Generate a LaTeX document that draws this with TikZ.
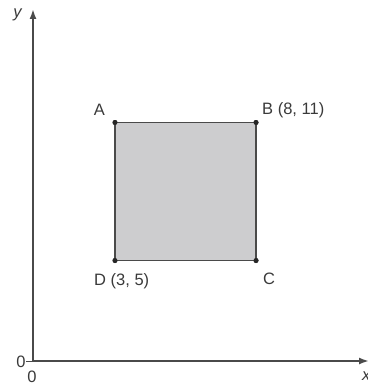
\documentclass[tikz,border=0pt]{standalone}
\usepackage{fontspec}
\setmainfont{Liberation Sans}
\usetikzlibrary{arrows.meta}
\definecolor{axisgray}{HTML}{4A4A4A}
\definecolor{txtgray}{HTML}{3A3A3A}
\definecolor{sqfill}{HTML}{CDCDCF}
\begin{document}
\begin{tikzpicture}[x=1pt,y=-1pt,
  axis/.style={draw=axisgray,line width=1.8pt,-{Latex[length=10pt,width=7pt]}},
  lbl/.style={text=txtgray,font=\fontsize{16.5}{18}\selectfont,inner sep=0pt},
  dot/.style={circle,fill=black!85,inner sep=0pt,minimum size=5pt}]
\useasboundingbox (0,0) rectangle (367,385);
\coordinate (O) at (33,361);
\coordinate (Ytip) at (33,9);
\coordinate (Xtip) at (369,361);
\draw[axis] (O) -- (Ytip);
\draw[axis] (O) -- (Xtip);
\draw[axisgray,line width=1pt] (O) -- ++(-7,0);
\node[dot] (A) at (115,122.5) {};
\node[dot] (B) at (256,122.5) {};
\node[dot] (C) at (256,260.5) {};
\node[dot] (D) at (115,260.5) {};
\fill[sqfill] (A.center) rectangle (C.center);
\draw[axisgray,line width=1.3pt] (A.center) -- (B.center) -- (C.center) -- (D.center) -- cycle;
\node[dot] at (A) {};
\node[dot] at (B) {};
\node[dot] at (C) {};
\node[dot] at (D) {};
\node[lbl] (lA) at (99.5,110) {A};
\node[lbl,anchor=west] (lB) at (262,110.7) {B (8, 11)};
\node[lbl,anchor=west] (lD) at (94,281) {D (3, 5)};
\node[lbl] (lC) at (269,279) {C};
\node[lbl] (l0y) at (21,362) {0};
\node[lbl] (l0x) at (32,377) {0};
\node[lbl,font=\fontsize{16.5}{18}\selectfont\itshape] (ly) at (17.5,15) {y};
\node[lbl,font=\fontsize{16.5}{18}\selectfont\itshape,anchor=north west] (lx) at (362,372) {x};
\end{tikzpicture}
\end{document}
